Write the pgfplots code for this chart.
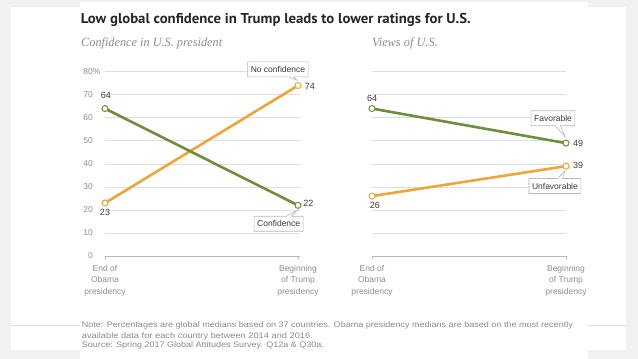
\documentclass[border=0pt]{standalone}
\usepackage{pgfplots}
\pgfplotsset{compat=1.18}
\usepackage{fontspec}
\setmainfont{Liberation Sans}
\newfontfamily\serifit{Liberation Serif}
\newfontfamily\titlefont{PT Sans}
\usetikzlibrary{shapes.callouts}
\definecolor{bg}{HTML}{F1F1F1}
\definecolor{pewgreen}{HTML}{6E8E3B}
\definecolor{peworange}{HTML}{EEA539}
\definecolor{gridc}{HTML}{DEDEDE}
\definecolor{basec}{HTML}{B8B8B8}
\definecolor{ticktext}{HTML}{8E8E8E}
\definecolor{numtext}{HTML}{3A3A3A}
\definecolor{notetext}{HTML}{8A8A8A}
\definecolor{subtext}{HTML}{8C8C8C}

\pgfplotsset{
  pewaxis/.style={
    scale only axis,
    height=184.3bp,
    ymin=0, ymax=80,
    xmin=0,
    clip=false,
    axis line style={draw=none},
    major tick style={draw=none},
    ytick={0,10,...,80},
    ymajorgrids,
    grid style={gridc, line width=0.7bp},
    xtick={0,1},
    xticklabels={End of\\Obama\\presidency, Beginning\\of Trump\\presidency},
    xticklabel style={align=center, inner sep=0pt, yshift=-9bp, text=ticktext,
      font=\fontsize{8.5bp}{11.5bp}\selectfont},
    yticklabel style={anchor=east, inner sep=0pt, xshift=-12bp, text=ticktext,
      font=\fontsize{8.5bp}{10bp}\selectfont},
  },
  gline/.style={pewgreen, line width=2.6bp, mark=*, mark size=3bp,
    mark options={fill=white, draw=pewgreen, line width=1bp}},
  oline/.style={peworange, line width=2.6bp, mark=*, mark size=3bp,
    mark options={fill=white, draw=peworange, line width=1bp}},
}
\tikzset{
  lbl/.style={text=numtext, inner sep=0pt, font=\fontsize{9bp}{10bp}\selectfont},
  callbox/.style={rectangle callout, draw=basec, fill=white, line width=0.6bp,
    text=numtext, inner xsep=3bp, inner ysep=3bp, minimum height=15bp,
    callout pointer width=5bp, font=\fontsize{8.5bp}{10bp}\selectfont},
}

\begin{document}
\begin{tikzpicture}
% slide background
\fill[bg] (0,0) rectangle (638bp,359bp);
\fill[white] (11bp,9bp) rectangle (626bp,352bp);
\fill[white] (80bp,0bp) rectangle (588bp,357bp);
\draw[gridc, line width=0.5bp] (11bp,33.3bp) -- (80bp,33.3bp);
\draw[gridc, line width=0.5bp] (588bp,33.3bp) -- (626bp,33.3bp);

% title and subtitles
\node[anchor=base west, inner sep=0pt, text=black!85] at (80.6bp,335.7bp)
  {\resizebox{390bp}{\height}{\fontsize{14.3bp}{16bp}\selectfont\titlefont\bfseries Low global confidence in Trump leads to lower ratings for U.S.}};
\node[anchor=base west, inner sep=0pt, text=subtext] at (81bp,312bp)
  {\resizebox{141bp}{\height}{\fontsize{12.5bp}{14bp}\selectfont\serifit\itshape Confidence in U.S. president}};
\node[anchor=base west, inner sep=0pt, text=subtext] at (372bp,312bp)
  {\resizebox{65.6bp}{\height}{\fontsize{12.5bp}{14bp}\selectfont\serifit\itshape Views of U.S.}};

% notes
\node[anchor=base west, inner sep=0pt, text=notetext] at (81.7bp,31bp)
  {\resizebox{491bp}{\height}{\fontsize{8bp}{10bp}\selectfont Note: Percentages are global medians based on 37 countries. Obama presidency medians are based on the most recently}};
\node[anchor=base west, inner sep=0pt, text=notetext] at (81.7bp,20.5bp)
  {\resizebox{231bp}{\height}{\fontsize{8bp}{10bp}\selectfont available data for each country between 2014 and 2016.}};
\node[anchor=base west, inner sep=0pt, text=notetext] at (81.7bp,11.3bp)
  {\resizebox{242bp}{\height}{\fontsize{8bp}{10bp}\selectfont Source: Spring 2017 Global Attitudes Survey. Q12a \& Q30a.}};

% left panel: confidence in U.S. president
\begin{axis}[pewaxis, at={(105bp,103bp)}, anchor=south west,
  width=195bp, xmax=1.0104,
  yticklabels={0,10,20,30,40,50,60,70,80\rlap{\%}}]
  \draw[basec, line width=0.8bp] (axis cs:0,0) -- (axis cs:1.0104,0);
  \draw[basec, line width=0.8bp] (axis cs:0,0) -- ++(0,-3bp);
  \draw[basec, line width=0.8bp] (axis cs:1,0) -- ++(0,-3bp);
  \addplot[oline] coordinates {(0,23) (1,74)};
  \addplot[gline] coordinates {(0,64) (1,22)};
  \node[lbl] at (axis cs:0.005,69.9) {64};
  \node[lbl] at (axis cs:0.0,19.1) {23};
  \node[lbl] at (axis cs:1.062,73.8) {74};
  \node[lbl] at (axis cs:1.054,23.0) {22};
  \node[callbox, callout absolute pointer={(axis cs:0.995,76.3)}] at (axis cs:0.896,81.0) {No confidence};
  \node[callbox, callout absolute pointer={(axis cs:0.995,19.8)}] at (axis cs:0.900,14.0) {Confidence};
\end{axis}

% right panel: views of U.S.
\begin{axis}[pewaxis, at={(372bp,103bp)}, anchor=south west,
  width=194bp, xmax=1,
  yticklabels={}]
  \draw[basec, line width=0.8bp] (axis cs:0,0) -- (axis cs:1,0);
  \draw[basec, line width=0.8bp] (axis cs:0,0) -- ++(0,-3bp);
  \draw[basec, line width=0.8bp] (axis cs:1,0) -- ++(0,-3bp);
  \addplot[oline] coordinates {(0,26) (1,39)};
  \addplot[gline] coordinates {(0,64) (1,49)};
  \node[lbl] at (axis cs:0.0,68.6) {64};
  \node[lbl] at (axis cs:0.015,21.8) {26};
  \node[lbl] at (axis cs:1.062,49) {49};
  \node[lbl] at (axis cs:1.062,39.2) {39};
  \node[callbox, callout absolute pointer={(axis cs:0.995,51.8)}] at (axis cs:0.933,59.8) {Favorable};
  \node[callbox, callout absolute pointer={(axis cs:0.995,36.8)}] at (axis cs:0.943,30.4) {Unfavorable};
\end{axis}
\end{tikzpicture}
\end{document}
